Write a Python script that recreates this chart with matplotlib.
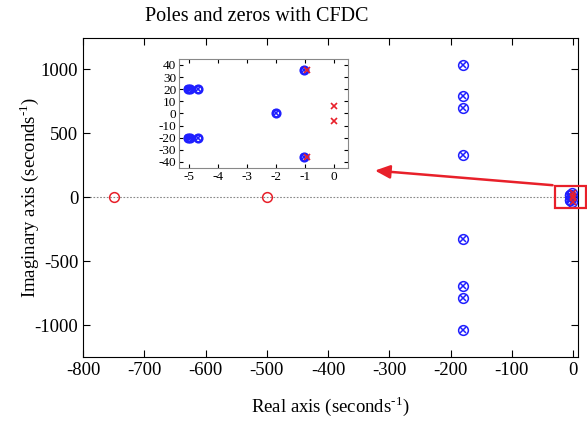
import matplotlib
matplotlib.use("Agg")
import matplotlib.pyplot as plt
from matplotlib.patches import Rectangle

plt.rcParams["font.family"] = ["Liberation Serif", "DejaVu Serif"]
plt.rcParams["mathtext.fontset"] = "custom"
plt.rcParams["mathtext.rm"] = "Liberation Serif"
plt.rcParams["axes.unicode_minus"] = False

# poles (blue, x inside o) and zeros (red)
pole_re = [-180, -180, -180, -180, -180, -180, -180, -180,
           -5.05, -4.97, -4.7, -5.05, -4.97, -4.7, -2.0, -1.02, -1.02]
pole_im = [1035, 790, 695, 330, -330, -695, -790, -1035,
           20, 20, 20, -20, -20, -20, 0, 36, -36]
zero_far_re = [-750, -500]
zero_far_im = [0, 0]
zero_near_re = [-0.93, -0.93, 0.0, 0.0]
zero_near_im = [36, -36, 6, -6]

BLUE = "#1f1fff"
RED = "#e8202a"

fig = plt.figure(figsize=(5.87, 4.21), dpi=100)
ax = fig.add_axes([0.1414, 0.152, 0.8433, 0.7577])

ax.axhline(0, color="#888888", lw=0.8, ls=(0, (1.5, 1.5)), zorder=1)
ax.plot(pole_re, pole_im, "o", ms=7, mfc="none", mec=BLUE, mew=1.1, zorder=3)
ax.plot(pole_re, pole_im, "x", ms=5, mec=BLUE, mew=1.1, zorder=3)
ax.plot(zero_far_re, zero_far_im, "o", ms=7, mfc="none", mec=RED, mew=1.1, zorder=3)
ax.plot(zero_near_re, zero_near_im, "x", ms=5, mec=RED, mew=1.1, zorder=4)

ax.set_xlim(-800, 8)
ax.set_ylim(-1250, 1245)
ax.set_xticks(range(-800, 1, 100))
ax.set_yticks([-1000, -500, 0, 500, 1000])
ax.tick_params(direction="in", top=True, right=True, labelsize=13.5, length=5)
ax.set_xlabel("Real axis (seconds$^{\\text{-1}}$)", fontsize=13.5, labelpad=11)
ax.set_ylabel("Imaginary axis (seconds$^{\\text{-1}}$)", fontsize=13.5, labelpad=-5)
ax.set_title("Poles and zeros with CFDC", fontsize=14.5, pad=12, x=0.35)

# zoom box and arrow to inset
ax.add_patch(Rectangle((-29, -85), 50, 170, fill=False, ec=RED, lw=1.6,
                       clip_on=False, zorder=5))
ax.annotate("", xy=(-328, 210), xytext=(-29, 92),
            arrowprops=dict(arrowstyle="-|>,head_length=0.9,head_width=0.4",
                            color=RED, lw=1.8), zorder=5)

# inset
axi = fig.add_axes([0.305, 0.601, 0.2879, 0.259])
axi.plot(pole_re, pole_im, "o", ms=5.5, mfc="none", mec=BLUE, mew=1.8)
axi.plot(pole_re, pole_im, "x", ms=4, mec=BLUE, mew=1.2)
axi.plot(zero_near_re, zero_near_im, "x", ms=5, mec=RED, mew=1.2)
axi.set_xlim(-5.35, 0.5)
axi.set_ylim(-45, 45)
axi.set_xticks(range(-5, 1))
axi.set_yticks(range(-40, 41, 10))
axi.tick_params(direction="in", top=True, right=True, labelsize=9.5,
                length=3, pad=2)
for s in axi.spines.values():
    s.set_color("#888888")

fig.savefig("out.png", dpi=100)
